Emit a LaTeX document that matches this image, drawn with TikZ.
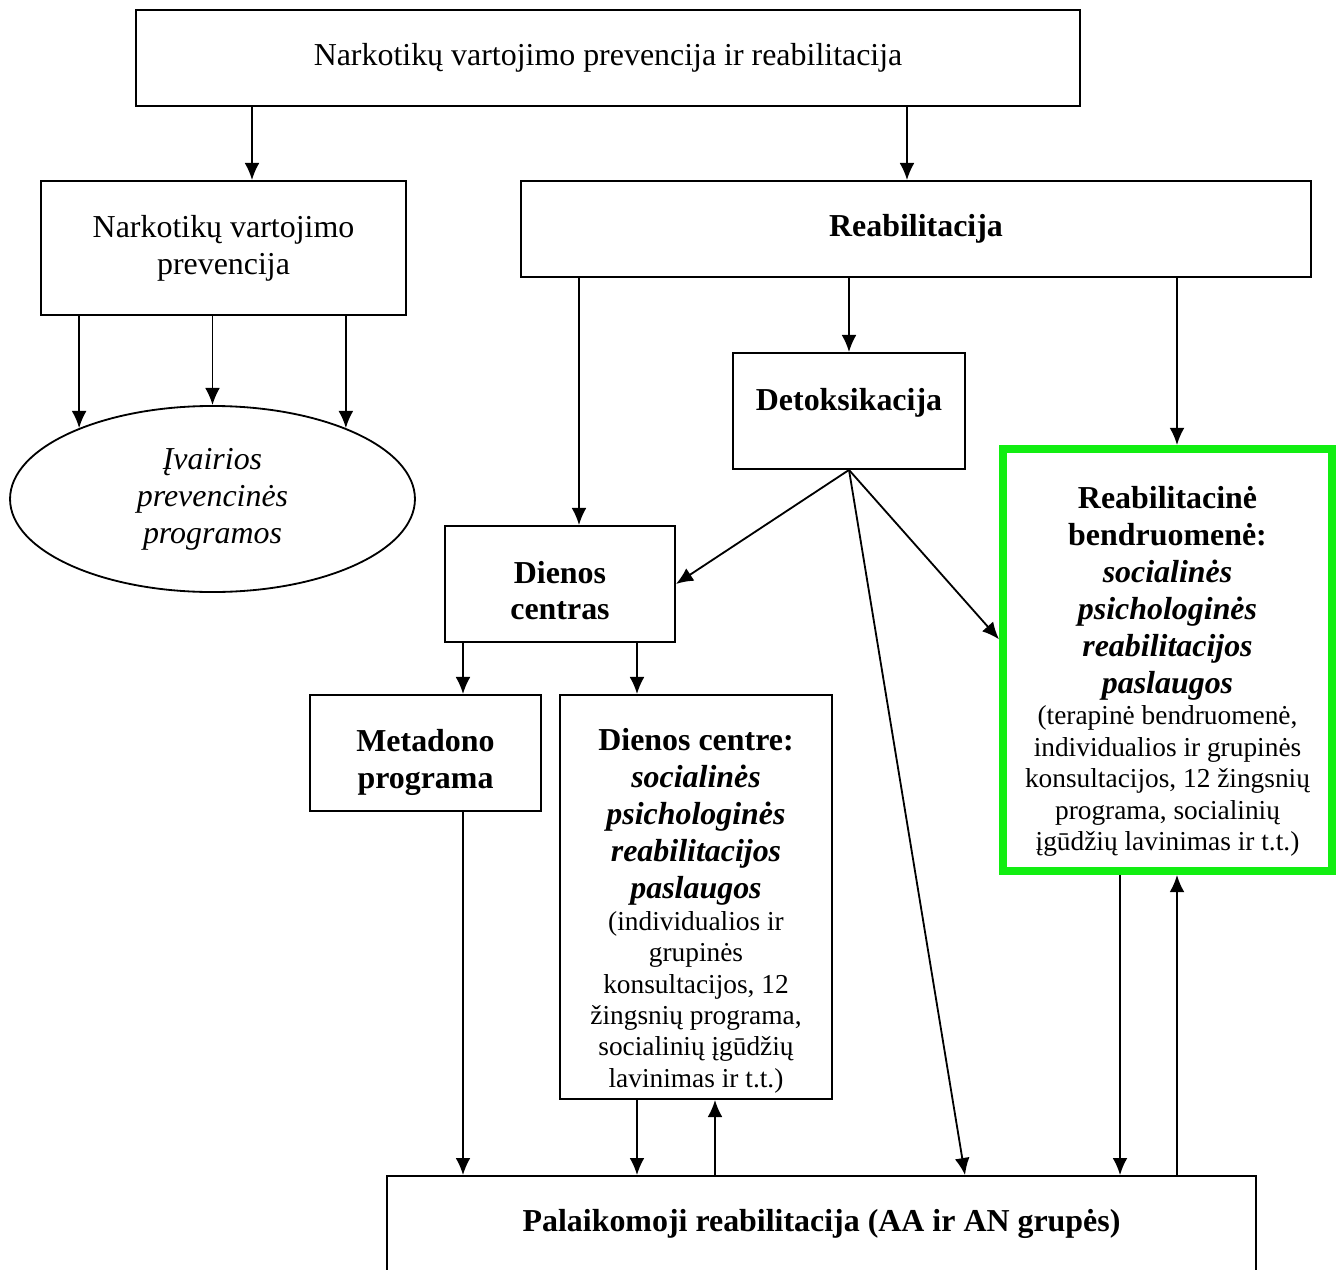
\documentclass[tikz,border=0pt]{standalone}
\usepackage{fontspec}
\setmainfont{Liberation Serif}
\usetikzlibrary{arrows.meta,shapes.geometric}
\definecolor{brightgreen}{RGB}{17,238,17}
\newcommand{\largetxt}{\fontsize{14}{16.2}\selectfont}
\newcommand{\smalltxt}{\fontsize{12}{13.8}\selectfont}
\begin{document}
\begin{tikzpicture}[x=0.4386pt, y=-0.4386pt, line width=0.8pt,
  >={Latex[length=7.5pt,width=6.5pt]},
  box/.style={draw, rectangle, inner sep=0pt, align=flush center, font=\largetxt},
  greenbox/.style={box, draw=brightgreen, line width=3.5pt}]
\useasboundingbox (0,0) rectangle (1338,1269);
\node[box, minimum width=414pt, minimum height=42.1pt] (top) at (608,58) {Narkotikų vartojimo prevencija ir reabilitacija};
\node[box, minimum width=160.1pt, minimum height=58.8pt] (nvp) at (223.5,248) {Narkotikų vartojimo\\prevencija};
\node[box, minimum width=346.5pt, minimum height=42.1pt] (reab) at (916,229) {\textbf{Reabilitacija}};
\node[draw, ellipse, inner sep=0pt, align=center, font=\largetxt\itshape, minimum width=177.6pt, minimum height=81.6pt] (ell) at (212.5,499) {Įvairios\\prevencinės\\programos};
\node[box, minimum width=101.8pt, minimum height=50.9pt] (detox) at (849,411) {\rule[-10pt]{0pt}{1pt}\textbf{Detoksikacija}};
\node[box, minimum width=100.9pt, minimum height=50.9pt] (dc) at (560,584) {\rule{0pt}{15.5pt}\textbf{Dienos}\\\textbf{centras}};
\node[box, minimum width=101.3pt, minimum height=50.9pt] (meta) at (425.5,753) {\rule{0pt}{18pt}\textbf{Metadono}\\\textbf{programa}};
\node[box, minimum width=119.3pt, minimum height=177.2pt, text width=114pt] (dce) at (696,897) {%
  \rule{0pt}{22pt}\textbf{Dienos centre:}\\\textbf{\textit{socialinės}}\\\textbf{\textit{psichologinės}}\\%
  \textbf{\textit{reabilitacijos}}\\\textbf{\textit{paslaugos}}\par
  {\smalltxt (individualios ir\\grupinės\\konsultacijos, 12\\žingsnių programa,\\socialinių įgūdžių\\lavinimas ir t.t.)\par}};
\node[greenbox, minimum width=144.3pt, minimum height=185.1pt, text width=138pt] (green) at (1167.5,660) {%
  \rule{0pt}{20pt}\textbf{Reabilitacinė}\\\textbf{bendruomenė:}\\\textbf{\textit{socialinės}}\\%
  \textbf{\textit{psichologinės}}\\\textbf{\textit{reabilitacijos}}\\\textbf{\textit{paslaugos}}\par
  {\smalltxt (terapinė bendruomenė,\\individualios ir grupinės\\konsultacijos, 12 žingsnių\\programa, socialinių\\įgūdžių lavinimas ir t.t.)\par}};
\node[box, minimum width=381.1pt, minimum height=42.1pt] (bottom) at (821.5,1224) {\textbf{Palaikomoji reabilitacija (AA ir AN grupės)}};
% x positions of the vertical arrows
\coordinate (a1) at (252,0);
\coordinate (a2) at (907,0);
\coordinate (a3) at (579,0);
\coordinate (a4) at (1177,0);
\coordinate (a5) at (965,0);
\coordinate (a6) at (463,0);
\coordinate (a7) at (637,0);
\coordinate (a8) at (715,0);
\coordinate (a9) at (1120,0);
\draw [->] (top.south -| a1) -- (nvp.north -| a1);
\draw [->] (top.south -| a2) -- (reab.north -| a2);
\draw [->] (nvp.south -| ell.152) -- (ell.152);
\draw [->] (nvp.south -| ell.north) -- (ell.north);
\draw [->] (nvp.south -| ell.28) -- (ell.28);
\draw [->] (reab.south -| a3) -- (dc.north -| a3);
\draw [->] (reab.south -| detox.north) -- (detox.north);
\draw [->] (reab.south -| a4) -- (green.north -| a4);
\draw [->] (detox.south) -- (dc.east);
\draw [->] (detox.south) -- (green.173);
\draw [->] (detox.south) -- (bottom.north -| a5);
\draw [->] (dc.south -| a6) -- (meta.north -| a6);
\draw [->] (dc.south -| a7) -- (dce.north -| a7);
\draw [->] (meta.south -| a6) -- (bottom.north -| a6);
\draw [->] (dce.south -| a7) -- (bottom.north -| a7);
\draw [<-] (dce.south -| a8) -- (bottom.north -| a8);
\draw [->] (green.south -| a9) -- (bottom.north -| a9);
\draw [<-] (green.south -| a4) -- (bottom.north -| a4);
\end{tikzpicture}
\end{document}
